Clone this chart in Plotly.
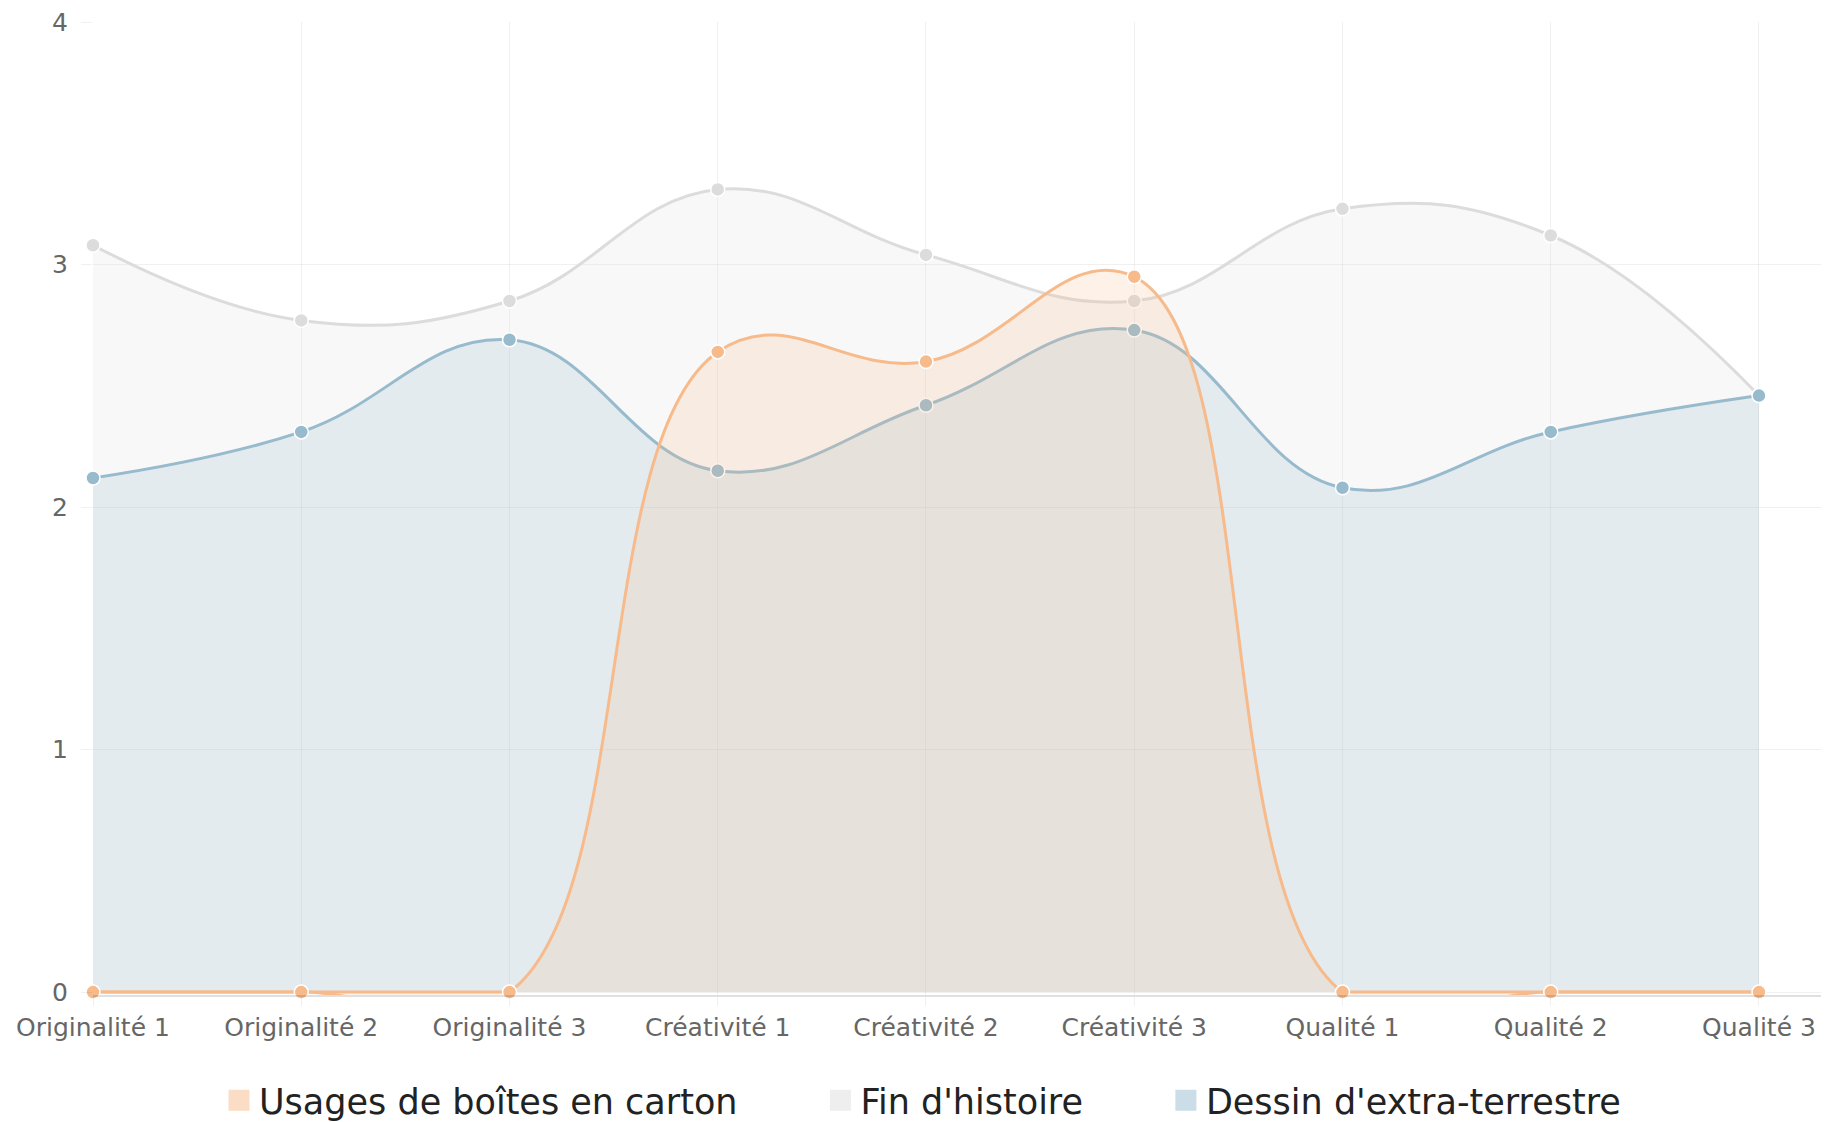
import plotly.graph_objects as go

categories = ["Originalité 1", "Originalité 2", "Originalité 3",
              "Créativité 1", "Créativité 2", "Créativité 3",
              "Qualité 1", "Qualité 2", "Qualité 3"]
usages_boites = [0, 0, 0, 2.64, 2.60, 2.95, 0, 0, 0]
fin_histoire = [3.08, 2.77, 2.85, 3.31, 3.04, 2.85, 3.23, 3.12, 2.46]
dessin_extra = [2.12, 2.31, 2.69, 2.15, 2.42, 2.73, 2.08, 2.31, 2.46]
y_ticks = [0, 1, 2, 3, 4]

ORANGE = "rgb(247,186,139)"
GREY = "rgb(220,220,220)"
BLUE = "rgb(151,187,205)"

def rgba(c, a):
    return c.replace("rgb(", "rgba(").replace(")", ",%s)" % a)

def blend(c, a):
    r, g, b = [int(v) for v in c[4:-1].split(",")]
    return "rgb(%d,%d,%d)" % tuple(round(v * a + 255 * (1 - a)) for v in (r, g, b))

fig = go.Figure()

def area(values, color, name):
    fig.add_trace(go.Scatter(
        x=categories, y=values, name=name, mode="lines+markers",
        line=dict(color=color, width=3, shape="spline", smoothing=1.2),
        marker=dict(size=14, color=color, line=dict(color="white", width=1.5)),
        fill="tozeroy", fillcolor=rgba(color, 0.2),
        showlegend=False, cliponaxis=False, hoverinfo="x+y+name"))

area(fin_histoire, GREY, "Fin d'histoire")
area(dessin_extra, BLUE, "Dessin d'extra-terrestre")

# flat runs at zero for the orange series (Chart.js caps curves at the chart area)
flat = [v if v == 0 else None for v in usages_boites]
fig.add_trace(go.Scatter(x=categories, y=flat, mode="lines",
                         line=dict(color=ORANGE, width=3), showlegend=False,
                         hoverinfo="skip", connectgaps=False))
area(usages_boites, ORANGE, "Usages de boîtes en carton")

# legend entries (square swatches)
pad = "\u00a0" * 7
for name, color, p in [("Usages de boîtes en carton", ORANGE, pad),
                       ("Fin d'histoire", GREY, pad),
                       ("Dessin d'extra-terrestre", BLUE, "")]:
    sw = blend(color, 0.5)
    fig.add_trace(go.Scatter(
        x=[None], y=[None], mode="markers", name=name + p,
        marker=dict(symbol="square", size=16, color=sw, line=dict(color=sw, width=5)),
        showlegend=True))

grid = "rgba(0,0,0,0.06)"
fig.update_layout(
    width=1829, height=1122,
    margin=dict(l=85, r=12, t=14, b=135),
    paper_bgcolor="white", plot_bgcolor="white",
    font=dict(family="DejaVu Sans", color="#666666"),
    xaxis=dict(type="category", range=[0, 8.317], showgrid=True, gridcolor=grid,
               gridwidth=1, ticks="outside", ticklen=9, tickcolor=grid,
               tickfont=dict(size=25, color="#666666"), automargin=False,
               ticklabeloverflow="allow",
               showline=True, linecolor="rgba(0,0,0,0.12)", linewidth=2,
               zeroline=False, fixedrange=True),
    yaxis=dict(range=[-0.012, 4.0005], tickvals=y_ticks, showgrid=True, gridcolor=grid,
               gridwidth=1, ticks="outside", ticklen=11, tickcolor=grid,
               tickfont=dict(size=25, color="#666666"), ticklabelstandoff=8,
               ticklabeloverflow="allow",
               automargin=False, zeroline=False, showline=False, fixedrange=True),
    legend=dict(orientation="h", xref="container", yref="container",
                x=0.5, xanchor="center", y=0.0, yanchor="bottom",
                font=dict(size=35, color="#222222", family="DejaVu Sans"),
                itemsizing="trace", traceorder="normal", bgcolor="rgba(0,0,0,0)"),
    showlegend=True,
)

fig.write_html("out.html")
